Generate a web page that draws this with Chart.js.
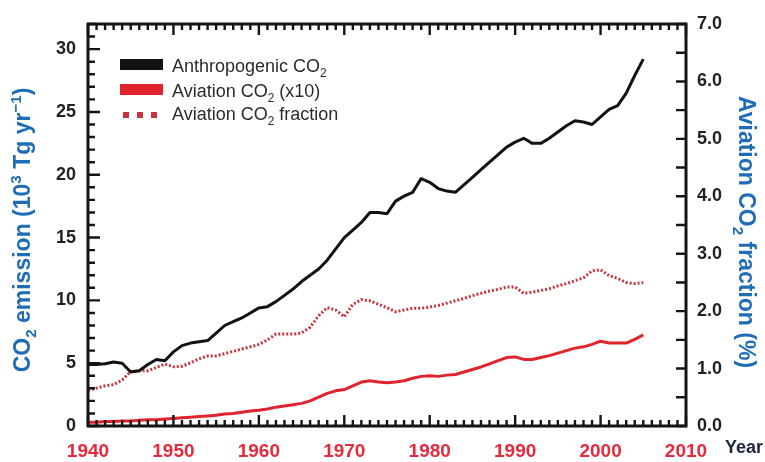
<!DOCTYPE html>
<html>
<head>
<meta charset="utf-8">
<script src="https://cdn.jsdelivr.net/npm/chart.js@4.4.1/dist/chart.umd.min.js"></script>
<style>
  html, body { margin: 0; padding: 0; background: #ffffff; }
  #wrap { width: 765px; height: 462px; position: relative; }
</style>
</head>
<body>
<div id="wrap"><canvas id="c"></canvas></div>
<script>
// ---- data ----
const years = [
  1940, 1941, 1942, 1943, 1944, 1945, 1946, 1947, 1948, 1949,
  1950, 1951, 1952, 1953, 1954, 1955, 1956, 1957, 1958, 1959,
  1960, 1961, 1962, 1963, 1964, 1965, 1966, 1967, 1968, 1969,
  1970, 1971, 1972, 1973, 1974, 1975, 1976, 1977, 1978, 1979,
  1980, 1981, 1982, 1983, 1984, 1985, 1986, 1987, 1988, 1989,
  1990, 1991, 1992, 1993, 1994, 1995, 1996, 1997, 1998, 1999,
  2000, 2001, 2002, 2003, 2004, 2005
];

// Total anthropogenic CO2 emission (10^3 Tg/yr)
const anthropogenicCO2 = [
  4.9, 4.9, 4.95, 5.1, 5.0, 4.3, 4.4, 4.9, 5.3, 5.2,
  5.9, 6.4, 6.6, 6.7, 6.8, 7.4, 8.0, 8.3, 8.6, 9.0,
  9.4, 9.5, 9.9, 10.4, 10.9, 11.5, 12.0, 12.5, 13.2, 14.1,
  15.0, 15.6, 16.2, 17.0, 17.0, 16.9, 17.9, 18.3, 18.6, 19.7,
  19.4, 18.9, 18.7, 18.6, 19.2, 19.8, 20.4, 21.0, 21.6, 22.2,
  22.6, 22.9, 22.5, 22.5, 22.9, 23.4, 23.9, 24.3, 24.2, 24.0,
  24.6, 25.2, 25.5, 26.5, 27.9, 29.2
];

// Aviation CO2 emission, scaled by 10 (10^3 Tg/yr)
const aviationCO2x10 = [
  0.3, 0.3, 0.35, 0.35, 0.4, 0.4, 0.45, 0.5, 0.5, 0.55,
  0.6, 0.65, 0.7, 0.75, 0.8, 0.85, 0.95, 1.0, 1.1, 1.2,
  1.25, 1.35, 1.5, 1.6, 1.7, 1.8, 2.0, 2.3, 2.6, 2.8,
  2.9, 3.2, 3.5, 3.6, 3.5, 3.45, 3.5, 3.6, 3.8, 3.95,
  4.0, 3.95, 4.05, 4.1, 4.3, 4.5, 4.7, 4.95, 5.2, 5.45,
  5.5, 5.3, 5.3, 5.45, 5.6, 5.8, 6.0, 6.2, 6.3, 6.5,
  6.75, 6.6, 6.6, 6.6, 6.9, 7.25
];

// Aviation share of total CO2 emission (%)
const aviationFraction = [
  0.62, 0.66, 0.70, 0.72, 0.80, 0.95, 0.96, 0.96, 1.02, 1.08,
  1.03, 1.04, 1.10, 1.17, 1.22, 1.22, 1.26, 1.30, 1.34, 1.38,
  1.42, 1.50, 1.60, 1.60, 1.60, 1.62, 1.72, 1.92, 2.06, 2.02,
  1.90, 2.12, 2.20, 2.18, 2.12, 2.06, 1.99, 2.02, 2.05, 2.05,
  2.07, 2.10, 2.14, 2.18, 2.22, 2.27, 2.31, 2.35, 2.38, 2.42,
  2.42, 2.31, 2.33, 2.36, 2.39, 2.44, 2.48, 2.53, 2.58, 2.70,
  2.72, 2.62, 2.57, 2.50, 2.48, 2.50
];

const yearTicks = [1940, 1950, 1960, 1970, 1980, 1990, 2000, 2010];
const emissionTicks = [0, 5, 10, 15, 20, 25, 30];
const fractionTicks = [0, 1, 2, 3, 4, 5, 6, 7];

// ---- styling ----
const FONT = "'Liberation Sans', Arial, Helvetica, sans-serif";
const BLUE = '#1f6db6';
const RED_TEXT = '#e42a3c';
const BLACK_LINE = '#121212';
const RED_LINE = '#e1232d';
const RED_DOT = '#c8323a';

const pts = (vals) => years.map((yr, i) => ({ x: yr, y: vals[i] }));
const setTicks = (list) => (scale) => { scale.ticks = list.map(v => ({ value: v })); };

// Draws a run of text pieces, some raised or lowered, starting at x on baseline y.
function richWidth(ctx, parts, size, weight) {
  let w = 0;
  for (const p of parts) {
    const s = p.sub || p.sup ? size * 0.66 : size;
    ctx.font = `${weight} ${s}px ${FONT}`;
    w += ctx.measureText(p.t).width;
  }
  return w;
}
function drawRich(ctx, parts, x, y, size, weight, color) {
  ctx.fillStyle = color;
  ctx.textBaseline = 'alphabetic';
  ctx.textAlign = 'left';
  let cx = x;
  for (const p of parts) {
    const s = p.sub || p.sup ? size * 0.66 : size;
    ctx.font = `${weight} ${s}px ${FONT}`;
    const dy = p.sub ? size * 0.28 : (p.sup ? -size * 0.38 : 0);
    ctx.fillText(p.t, cx, y + dy);
    cx += ctx.measureText(p.t).width;
  }
}

// Frame, inward tick marks, axis titles and legend
const decorations = {
  id: 'decorations',
  afterDatasetsDraw(chart) {
    const { ctx, chartArea: a, scales } = chart;
    const sx = scales.x, sl = scales.y, sr = scales.y1;
    ctx.save();
    ctx.strokeStyle = '#141414';
    ctx.lineCap = 'butt';

    // yearly ticks along bottom and top edges
    ctx.lineWidth = 2.4;
    ctx.beginPath();
    for (let yr = sx.min; yr <= sx.max; yr++) {
      const px = sx.getPixelForValue(yr);
      const len = yr % 10 === 0 ? 11 : 6;
      ctx.moveTo(px, a.bottom); ctx.lineTo(px, a.bottom - len);
      ctx.moveTo(px, a.top); ctx.lineTo(px, a.top + len);
    }
    // unit ticks on the left edge
    for (let v = sl.min; v <= sl.max; v++) {
      const py = sl.getPixelForValue(v);
      const len = v % 5 === 0 ? 12 : 7;
      ctx.moveTo(a.left, py); ctx.lineTo(a.left + len, py);
    }
    // half-percent ticks on the right edge
    for (let v = sr.min; v <= sr.max + 1e-9; v += 0.5) {
      const py = sr.getPixelForValue(v);
      ctx.moveTo(a.right, py); ctx.lineTo(a.right - 10, py);
    }
    ctx.stroke();

    // plot frame
    ctx.lineWidth = 3;
    ctx.strokeRect(a.left, a.top, a.right - a.left, a.bottom - a.top);
    ctx.restore();
  },
  afterDraw(chart) {
    const { ctx, chartArea: a } = chart;
    ctx.save();

    // left axis title
    const leftTitle = [
      { t: 'CO' }, { t: '2', sub: true }, { t: ' emission (10' }, { t: '3', sup: true },
      { t: ' Tg yr' }, { t: '\u22121', sup: true }, { t: ')' }
    ];
    ctx.save();
    ctx.translate(30, 230);
    ctx.rotate(-Math.PI / 2);
    const lw = richWidth(ctx, leftTitle, 23, 'bold');
    drawRich(ctx, leftTitle, -lw / 2, 0, 23, 'bold', BLUE);
    ctx.restore();

    // right axis title
    const rightTitle = [
      { t: 'Aviation CO' }, { t: '2', sub: true }, { t: ' fraction (%)' }
    ];
    ctx.save();
    ctx.translate(739, 232);
    ctx.rotate(Math.PI / 2);
    const rw = richWidth(ctx, rightTitle, 23, 'bold');
    drawRich(ctx, rightTitle, -rw / 2, 0, 23, 'bold', BLUE);
    ctx.restore();

    // "Year" label beside the x axis
    ctx.font = `bold 18px ${FONT}`;
    ctx.fillStyle = '#1d2540';
    ctx.textAlign = 'left';
    ctx.textBaseline = 'alphabetic';
    ctx.fillText('Year', 725, 453);

    // legend
    const lx = 120, tx = 172;
    ctx.fillStyle = BLACK_LINE;
    ctx.fillRect(lx, 59, 43, 11);
    ctx.fillStyle = RED_LINE;
    ctx.fillRect(lx, 84, 43, 11);
    ctx.fillStyle = RED_DOT;
    for (let k = 0; k < 3; k++) ctx.fillRect(lx + 3 + k * 14, 112, 6, 6);

    const legendColor = '#2b2b2b';
    drawRich(ctx, [{ t: 'Anthropogenic CO' }, { t: '2', sub: true }], tx, 72, 18, 'normal', legendColor);
    drawRich(ctx, [{ t: 'Aviation CO' }, { t: '2', sub: true }, { t: ' (x10)' }], tx, 97, 18, 'normal', legendColor);
    drawRich(ctx, [{ t: 'Aviation CO' }, { t: '2', sub: true }, { t: ' fraction' }], tx, 120, 18, 'normal', legendColor);

    ctx.restore();
  }
};

new Chart(document.getElementById('c'), {
  type: 'line',
  data: {
    datasets: [
      {
        label: 'Anthropogenic CO2',
        data: pts(anthropogenicCO2),
        yAxisID: 'y',
        borderColor: BLACK_LINE,
        borderWidth: 3,
        pointRadius: 0,
        tension: 0,
        borderJoinStyle: 'round'
      },
      {
        label: 'Aviation CO2 (x10)',
        data: pts(aviationCO2x10),
        yAxisID: 'y',
        borderColor: RED_LINE,
        borderWidth: 3,
        pointRadius: 0,
        tension: 0,
        borderJoinStyle: 'round'
      },
      {
        label: 'Aviation CO2 fraction',
        data: pts(aviationFraction),
        yAxisID: 'y1',
        borderColor: RED_DOT,
        borderWidth: 3,
        borderDash: [2, 2],
        borderCapStyle: 'butt',
        pointRadius: 0,
        tension: 0
      }
    ]
  },
  options: {
    responsive: true,
    maintainAspectRatio: false,
    animation: false,
    devicePixelRatio: 1,
    layout: { padding: { top: 24, left: 0, right: 0, bottom: 0 } },
    plugins: {
      legend: { display: false },
      tooltip: { enabled: false }
    },
    scales: {
      x: {
        type: 'linear',
        min: yearTicks[0],
        max: yearTicks[yearTicks.length - 1],
        afterBuildTicks: setTicks(yearTicks),
        afterFit: (s) => { s.height = 36; },
        grid: { display: false, drawTicks: false },
        border: { display: false },
        ticks: {
          autoSkip: false,
          maxRotation: 0,
          padding: 14,
          color: RED_TEXT,
          font: { family: FONT, size: 19, weight: 'bold' },
          callback: (v) => String(v)
        }
      },
      y: {
        position: 'left',
        min: 0,
        max: 32,
        afterBuildTicks: setTicks(emissionTicks),
        afterFit: (s) => { s.width = 88; },
        grid: { display: false, drawTicks: false },
        border: { display: false },
        ticks: {
          padding: 12,
          color: '#222222',
          font: { family: FONT, size: 18, weight: 'bold' },
          callback: (v) => String(v)
        }
      },
      y1: {
        position: 'right',
        min: 0,
        max: 7,
        afterBuildTicks: setTicks(fractionTicks),
        afterFit: (s) => { s.width = 79; },
        grid: { display: false, drawTicks: false },
        border: { display: false },
        ticks: {
          padding: 11,
          color: '#222222',
          font: { family: FONT, size: 18, weight: 'bold' },
          callback: (v) => v.toFixed(1)
        }
      }
    }
  },
  plugins: [decorations]
});
</script>
</body>
</html>
